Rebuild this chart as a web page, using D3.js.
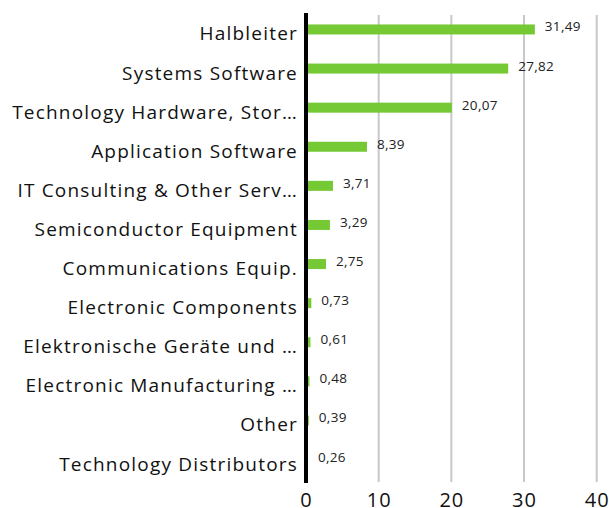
<!DOCTYPE html>
<html>
<head>
<meta charset="utf-8">
<script src="https://cdn.jsdelivr.net/npm/d3@7"></script>
<style>
  body { margin: 0; background: #fff; }
  svg { display: block; font-family: "Open Sans", sans-serif; }
</style>
</head>
<body>
<div id="chart"></div>
<script>
// Daten
const categories = [
    "Halbleiter",
    "Systems Software",
    "Technology Hardware, Stor…",
    "Application Software",
    "IT Consulting & Other Serv…",
    "Semiconductor Equipment",
    "Communications Equip.",
    "Electronic Components",
    "Elektronische Geräte und …",
    "Electronic Manufacturing …",
    "Other",
    "Technology Distributors"
];
const values = [31.49, 27.82, 20.07, 8.39, 3.71, 3.29, 2.75, 0.73, 0.61, 0.48, 0.39, 0.26];
const tickValues = [0, 10, 20, 30, 40];

const w = 609, h = 508;
const x0 = 306, x1 = 596.7;
const yTop = 10, yBottom = 479;

const svg = d3.select("#chart").append("svg")
    .attr("width", w)
    .attr("height", h);

const x = d3.scaleLinear().domain([0, 40]).range([x0, x1]);
const y = d3.scaleBand().domain(categories).range([yTop, yBottom]).paddingInner(0.745).paddingOuter(0.37);

// Gitternetz
svg.append("g")
    .selectAll("line")
    .data(tickValues.filter(t => t > 0))
    .join("line")
    .attr("x1", d => x(d)).attr("x2", d => x(d))
    .attr("y1", 15).attr("y2", 482)
    .attr("stroke", "#c8c8c8")
    .attr("stroke-width", 2);

// Balken
svg.append("g")
    .selectAll("rect")
    .data(values)
    .join("rect")
    .attr("x", x(0))
    .attr("y", (d, i) => y(categories[i]) + y.bandwidth() / 2 - 5)
    .attr("width", d => x(d) - x(0))
    .attr("height", 10)
    .attr("fill", "#75c934");

// Werte
svg.append("g")
    .selectAll("text")
    .data(values)
    .join("text")
    .attr("x", d => x(d) + 10)
    .attr("y", (d, i) => y(categories[i]) + y.bandwidth() / 2 + 2)
    .attr("font-size", "13.5px")
    .attr("letter-spacing", "0.3px")
    .attr("fill", "#222")
    .text(d => d3.format(".2f")(d).replace(".", ","));

// Kategorien
svg.append("g")
    .selectAll("text")
    .data(categories)
    .join("text")
    .attr("x", 298)
    .attr("y", d => y(d) + y.bandwidth() / 2 + 11)
    .attr("text-anchor", "end")
    .attr("font-size", "19px")
    .attr("letter-spacing", "1.2px")
    .attr("fill", "#111")
    .text(d => d);

// Achse bei 0
svg.append("line")
    .attr("x1", x(0)).attr("x2", x(0))
    .attr("y1", 13).attr("y2", 483)
    .attr("stroke", "#000")
    .attr("stroke-width", 4);

// x-Achsen Beschriftung
const xAxis = svg.append("g")
    .attr("transform", `translate(0, 488)`)
    .call(d3.axisBottom(x).tickValues(tickValues).tickSize(0).tickPadding(0));
xAxis.select(".domain").remove();
xAxis.selectAll("text")
    .attr("dy", null)
    .attr("y", 19)
    .attr("font-size", "20px")
    .attr("letter-spacing", "1px")
    .attr("font-family", "Open Sans, sans-serif")
    .attr("fill", "#111");
</script>
</body>
</html>
